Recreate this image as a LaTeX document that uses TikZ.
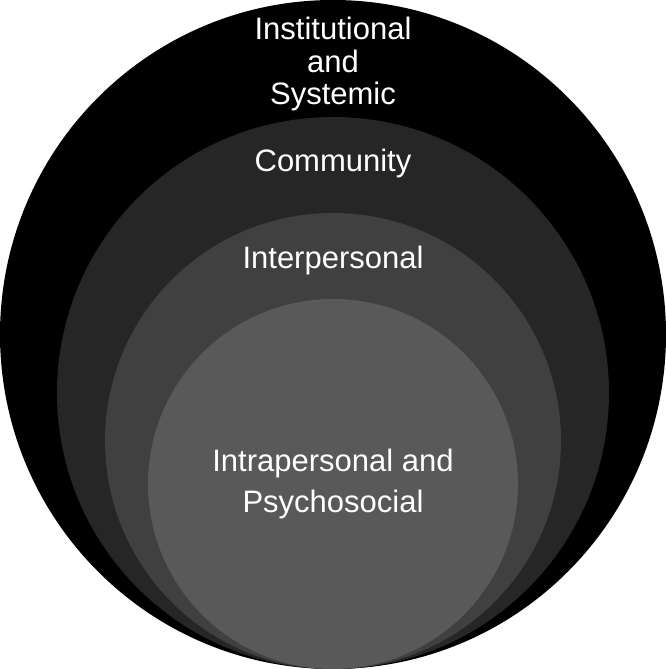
\documentclass[tikz,border=0pt]{standalone}
\usepackage{fontspec}
\setmainfont{Liberation Sans}
\definecolor{ringA}{RGB}{0,0,0}
\definecolor{ringB}{RGB}{38,38,38}
\definecolor{ringC}{RGB}{64,64,64}
\definecolor{ringD}{RGB}{89,89,89}
\tikzset{
  ring/.style={draw=none},
  lbl/.style={text=white, font=\fontsize{31}{31.5}\selectfont, align=center, anchor=base, inner sep=0pt}
}
\begin{document}
\begin{tikzpicture}
\useasboundingbox (0pt,0pt) rectangle (666pt,-669pt);
\fill[ring, ringA] (333pt,-334.5pt) ellipse [x radius=333pt, y radius=334.5pt];
\fill[ring, ringB] (333pt,-393pt) circle [radius=276pt];
\fill[ring, ringC] (333pt,-441pt) circle [radius=228pt];
\fill[ring, ringD] (333pt,-484pt) circle [radius=185pt];
\node[lbl] (inst1) at (333pt,-40pt) {Institutional};
\node[lbl] (inst2) at (333pt,-72pt) {and};
\node[lbl] (inst3) at (333pt,-104pt) {Systemic};
\node[lbl] (comm) at (333pt,-171pt) {Community};
\node[lbl] (inter) at (333pt,-268pt) {Interpersonal};
\node[lbl] (intra1) at (333pt,-471pt) {Intrapersonal and};
\node[lbl] (intra2) at (333pt,-512pt) {Psychosocial};
\end{tikzpicture}
\end{document}
